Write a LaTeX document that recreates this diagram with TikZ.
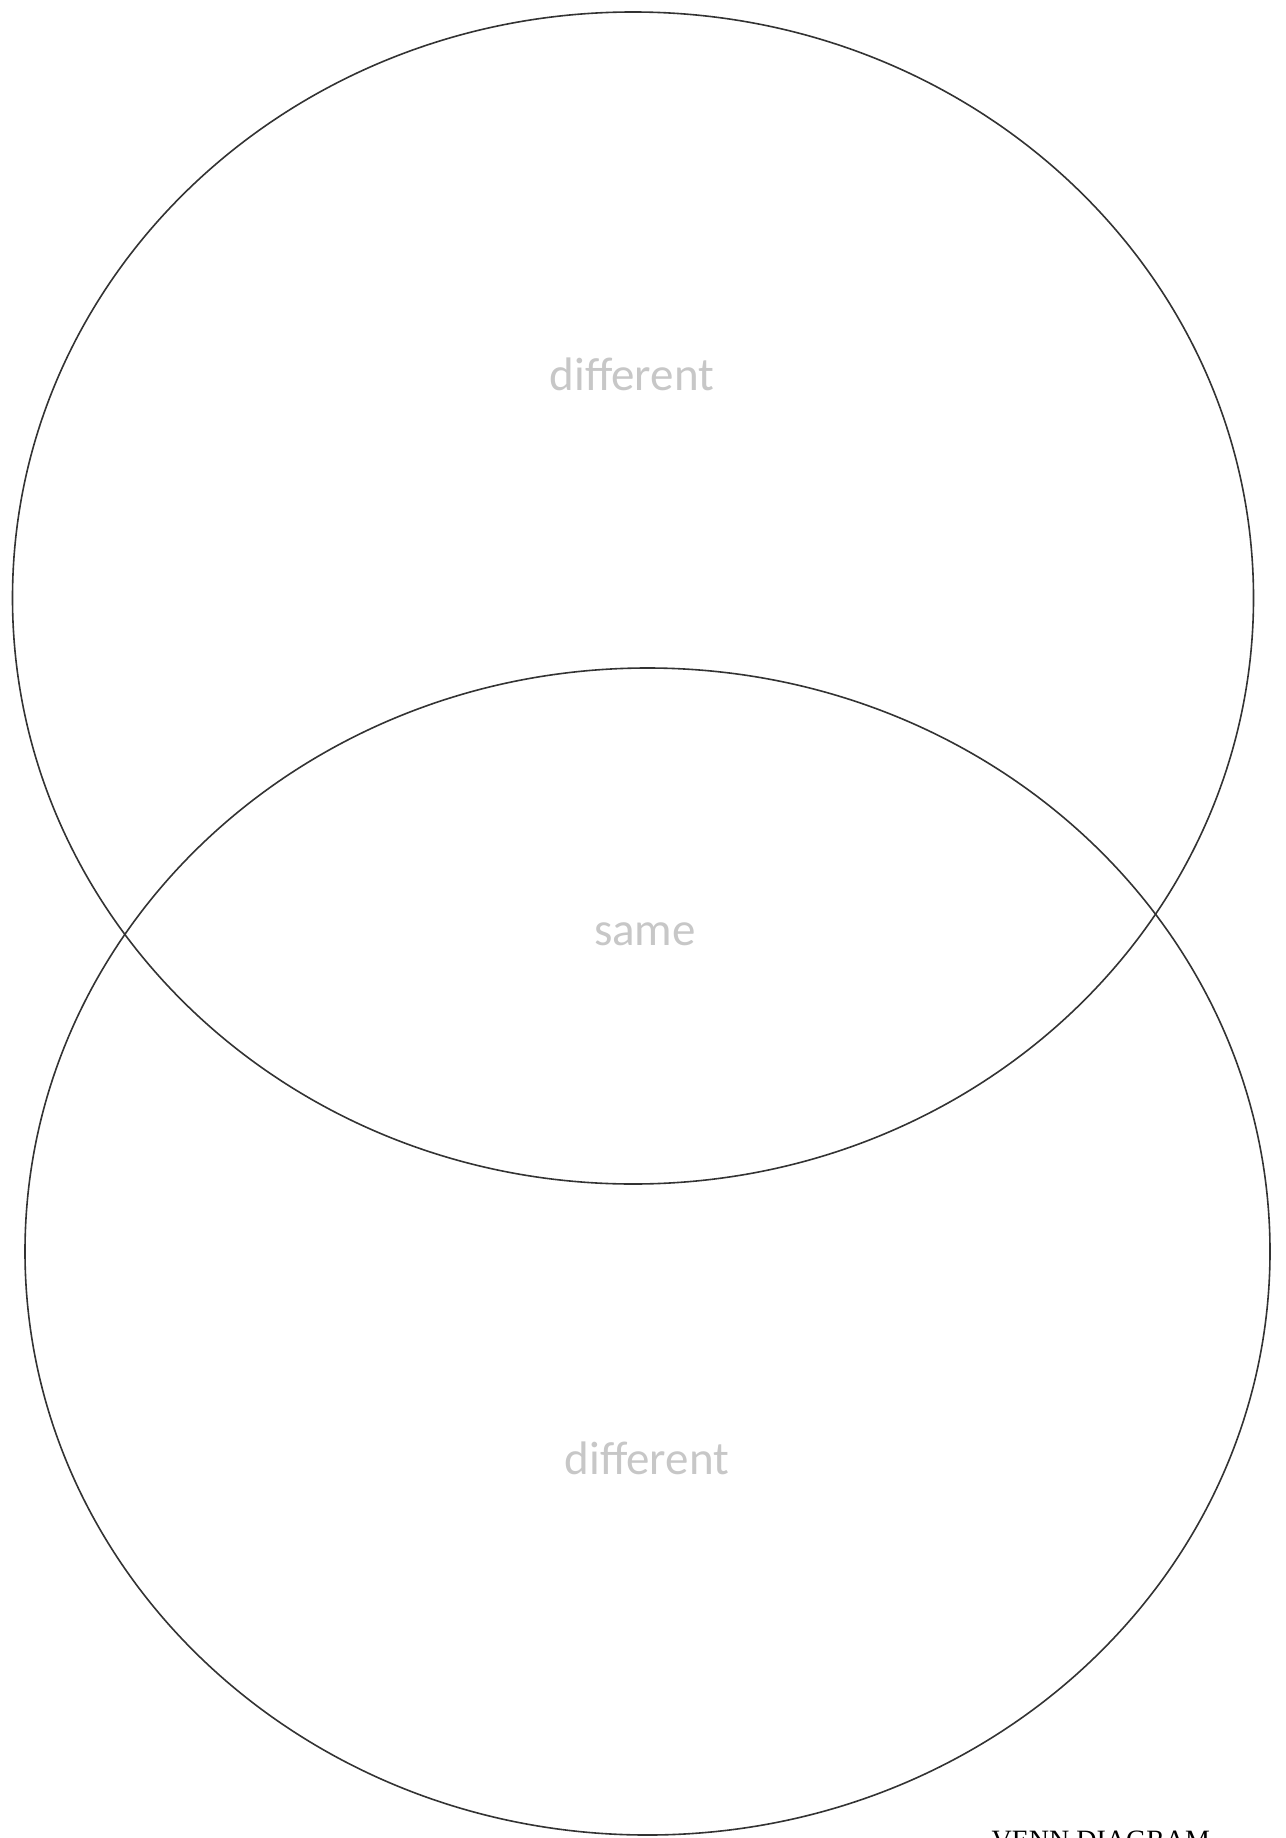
\documentclass[tikz,border=0pt]{standalone}
\usepackage{fontspec}
\setmainfont{Liberation Serif}
\newfontfamily\labelfont{Carlito}
\usetikzlibrary{shapes.geometric}

\tikzset{
  set/.style={draw=black!80, line width=1.6pt, ellipse, inner sep=0pt, outer sep=0pt},
  region/.style={anchor=base, text=black!22, font=\labelfont\fontsize{47}{56}\selectfont},
  caption/.style={anchor=base west, font=\fontsize{28}{34}\selectfont}
}

\begin{document}
\begin{tikzpicture}[x=1pt,y=-1pt]
  \useasboundingbox (0,0) rectangle (1285,1838);

  \node[set, minimum width=1241pt, minimum height=1172pt] (upper) at (633,598) {};
  \node[set, minimum width=1245pt, minimum height=1167pt] (lower) at (647.5,1251.5) {};

  \node[region] (diffup) at (632,390) {different};
  \node[region] (same) at (645,945) {same};
  \node[region] (difflow) at (647,1474) {different};

  \node[caption] (title) at (988,1849) {VENN DIAGRAM};
\end{tikzpicture}
\end{document}
